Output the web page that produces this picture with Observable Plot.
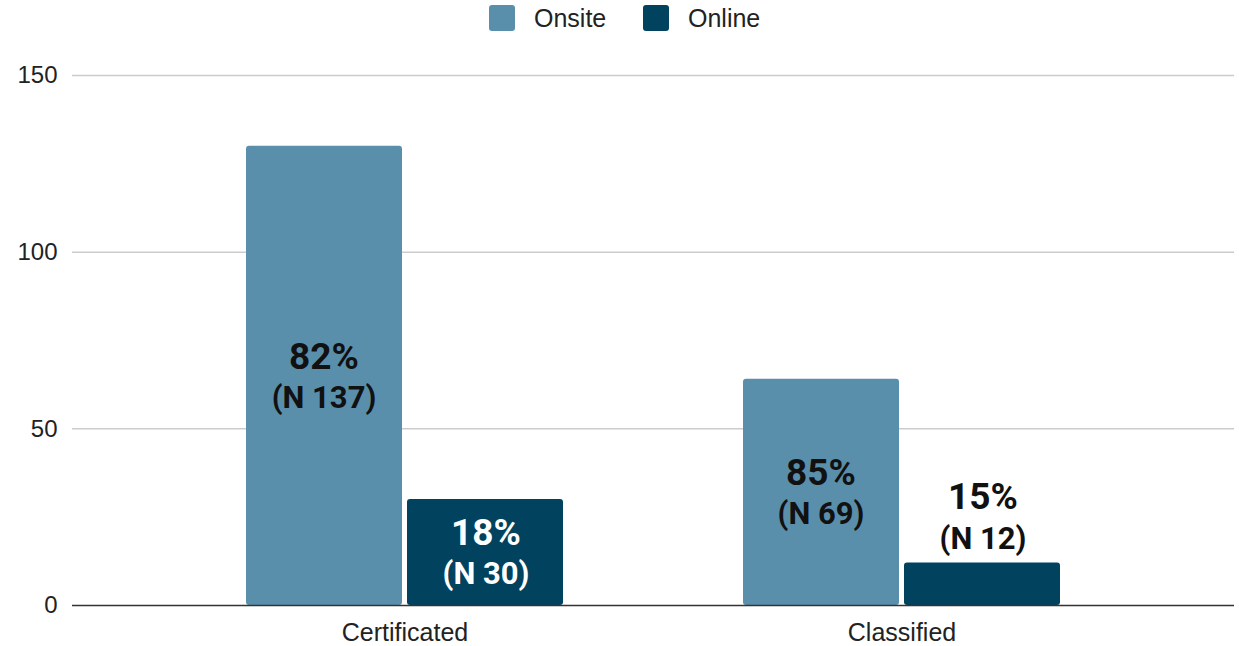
<!DOCTYPE html>
<html>
<head>
<meta charset="utf-8">
<script src="https://cdn.jsdelivr.net/npm/d3@7"></script>
<script src="https://cdn.jsdelivr.net/npm/@observablehq/plot@0.6"></script>
<style>
  html, body { margin: 0; padding: 0; background: #fff; }
  #legend { position: relative; height: 40px; width: 1239px; font-family: "Liberation Sans", Arial, sans-serif; font-size: 25px; color: #222; }
  .item { position: absolute; top: 5px; display: flex; align-items: center; height: 26px; }
  .sw { width: 26px; height: 26px; border-radius: 3px; margin-right: 19px; }
  #chart svg { display: block; }
</style>
</head>
<body>
<div id="legend"></div>
<div id="chart"></div>
<script>
const categories = ["Certificated", "Classified"];
const series = ["Onsite", "Online"];
const onsiteValues = [130, 64];
const onlineValues = [30, 12];
const onsitePct = [82, 85];
const onlinePct = [18, 15];
const onsiteN = [137, 69];
const onlineN = [30, 12];
const yTicks = [0, 50, 100, 150];
const colors = ["#5a8fac", "#01425f"];

const rows = categories.flatMap((c, i) => [
  {category: c, series: "Onsite", value: onsiteValues[i], pct: onsitePct[i], n: onsiteN[i]},
  {category: c, series: "Online", value: onlineValues[i], pct: onlinePct[i], n: onlineN[i]}
]);

// legend
const legend = document.getElementById("legend");
const legendLeft = [489, 643];
series.forEach((s, i) => {
  const it = document.createElement("div");
  it.className = "item";
  it.style.left = legendLeft[i] + "px";
  it.innerHTML = `<div class="sw" style="background:${colors[i]}"></div><span>${s}</span>`;
  legend.appendChild(it);
});

const bandW = 317;
const barW = 156;
const off = (bandW - barW) / 2 + 0.5;
const labelFont = "Roboto, 'Liberation Sans', sans-serif";

function labelMarks(data, dx, fill) {
  const inside = data.filter(d => d.value >= 20);
  const above = data.filter(d => d.value < 20);
  const common = {x: "category", dx, fill, fontFamily: labelFont, fontWeight: "bold"};
  return [
    Plot.text(inside, {...common, y: d => d.value / 2, text: d => d.pct + "%", dy: -19, fontSize: 37}),
    Plot.text(inside, {...common, y: d => d.value / 2, text: d => "(N " + d.n + ")", dy: 22, fontSize: 31}),
    Plot.text(above, {...common, fill: "#111", y: "value", text: d => d.pct + "%", dy: -66, fontSize: 37}),
    Plot.text(above, {...common, fill: "#111", y: "value", text: d => "(N " + d.n + ")", dy: -24, fontSize: 31})
  ];
}

const chart = Plot.plot({
  width: 1239,
  height: 606,
  marginTop: 35,
  marginBottom: 41,
  marginLeft: 72,
  marginRight: 5,
  style: {fontFamily: "'Liberation Sans', Arial, sans-serif", background: "#fff"},
  x: {type: "band", domain: categories, paddingInner: 0.362, paddingOuter: 0.35, label: null},
  y: {domain: [0, 150], label: null},
  marks: [
    Plot.ruleY(yTicks.filter(t => t > 0), {stroke: "#cccccc", strokeWidth: 1.5}),
    Plot.barY(rows.filter(d => d.series === "Onsite"), {x: "category", y: "value", fill: colors[0], insetLeft: 0, insetRight: bandW - barW, rx: 3}),
    Plot.barY(rows.filter(d => d.series === "Online"), {x: "category", y: "value", fill: colors[1], insetLeft: bandW - barW, insetRight: 0, rx: 3}),
    Plot.ruleY([0], {stroke: "#333", strokeWidth: 1.5}),
    ...labelMarks(rows.filter(d => d.series === "Onsite"), -off, "#111"),
    ...labelMarks(rows.filter(d => d.series === "Online"), off, "#fff"),
    Plot.axisY({ticks: yTicks, tickSize: 0, tickPadding: 15, fontSize: 24, fill: "#222", label: null}),
    Plot.axisX({tickSize: 0, tickPadding: 18, fontSize: 25, fill: "#222", label: null})
  ]
});
document.getElementById("chart").appendChild(chart);
</script>
</body>
</html>
